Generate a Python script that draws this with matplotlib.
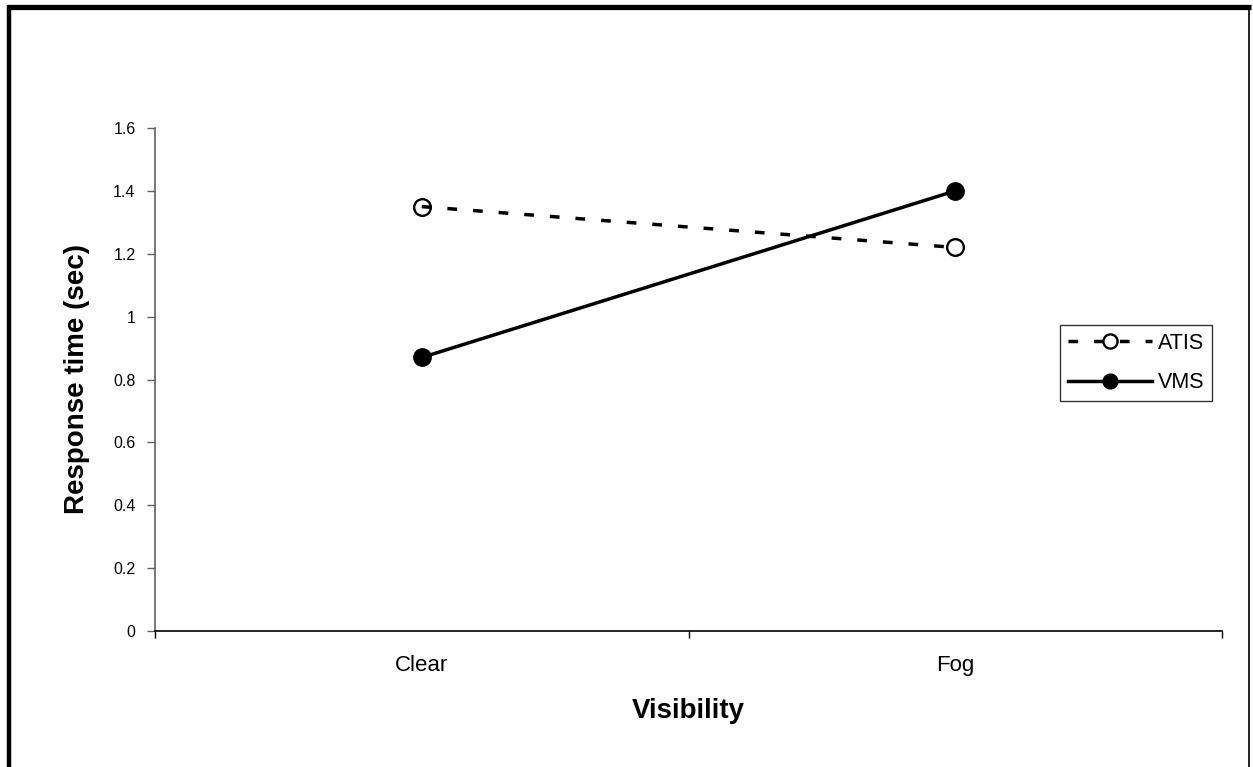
import matplotlib.pyplot as plt
from matplotlib.lines import Line2D

plt.rcParams['font.family'] = ['Liberation Sans', 'DejaVu Sans']

# -------------------------------------------------------------------------
# Data
# -------------------------------------------------------------------------
visibility = ['Clear', 'Fog']
atis = [1.35, 1.22]
vms = [0.87, 1.40]
yticks = [0, 0.2, 0.4, 0.6, 0.8, 1, 1.2, 1.4, 1.6]
ytick_labels = ['0', '0.2', '0.4', '0.6', '0.8', '1', '1.2', '1.4', '1.6']

fig = plt.figure(figsize=(12.53, 7.67), dpi=100)

# frame around the whole chart area
fig.add_artist(Line2D([0.0072, 0.0072], [0, 0.993], transform=fig.transFigure,
                      color='black', lw=3.2, solid_capstyle='butt'))
fig.add_artist(Line2D([0.0056, 0.9985], [0.9907, 0.9907], transform=fig.transFigure,
                      color='black', lw=3.8, solid_capstyle='butt'))
fig.add_artist(Line2D([0.9967, 0.9967], [0, 0.992], transform=fig.transFigure,
                      color='black', lw=1.2, solid_capstyle='butt'))

ax = fig.add_axes([155/1253, 1-631/767, (1222-155)/1253, (631-128)/767])

x = range(len(visibility))
ax.plot(x, atis, color='black', lw=2.5, dashes=(2.8, 4.6),
        marker='o', ms=12, mfc='none', mec='black', mew=1.7, label='ATIS')
ax.plot(x, vms, color='black', lw=2.5,
        marker='o', ms=12.5, mfc='black', mec='black', label='VMS')

ax.set_xlim(-0.5, 1.5)
ax.set_ylim(0, 1.6)
ax.set_yticks(yticks)
ax.set_yticklabels(ytick_labels)
ax.set_xticks([-0.5, 0.5, 1.5])
ax.set_xticklabels([])
ax.set_xticks(list(x), minor=True)
ax.set_xticklabels(visibility, minor=True)
ax.tick_params(axis='x', which='minor', length=0, pad=17, labelsize=16)
ax.tick_params(axis='x', which='major', length=5, width=1, direction='out')
ax.tick_params(axis='y', length=6, width=1, direction='out', labelsize=11.5,
               color='#606060', pad=8)

for s in ['top', 'right']:
    ax.spines[s].set_visible(False)
ax.spines['left'].set_color('#606060')
ax.spines['bottom'].set_color('black')
ax.spines['left'].set_linewidth(1.2)
ax.spines['bottom'].set_linewidth(1.2)

ax.set_xlabel('Visibility', fontsize=20, fontweight='bold', labelpad=16)
ax.set_ylabel('Response time (sec)', fontsize=20, fontweight='bold', labelpad=17)

leg = ax.legend(loc='upper left', bbox_to_anchor=((1060-155)/1067, (631-325)/503),
                fontsize=15.5, frameon=True, fancybox=False, edgecolor='black',
                handlelength=3.9, handletextpad=0.28, borderpad=0.36,
                labelspacing=0.85, borderaxespad=0, markerscale=0.85)
leg.get_frame().set_linewidth(1.0)

plt.savefig('out.png', dpi=100)
